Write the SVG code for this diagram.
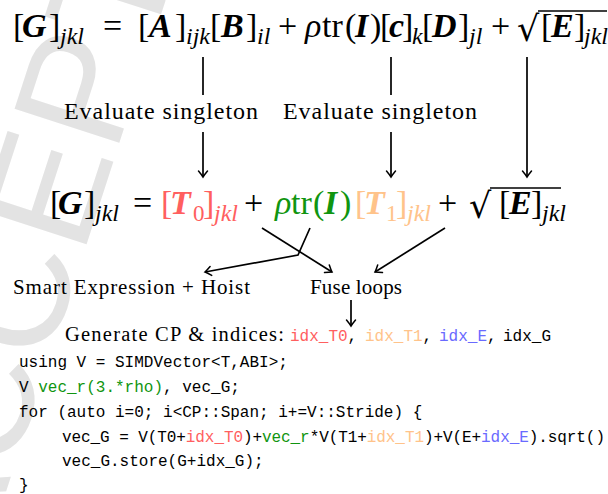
<svg xmlns="http://www.w3.org/2000/svg" width="608" height="494" viewBox="0 0 608 494">
<defs>
<style>
.wm{font-family:"Liberation Sans",Arial,sans-serif;font-size:160px;fill:#e3e3e3}
.m{font-family:"Liberation Serif","Times New Roman",serif;font-size:34px;fill:#000}
.bi{font-weight:bold;font-style:italic}
.it{font-style:italic}
.sub{font-family:"Liberation Serif","Times New Roman",serif;font-size:24px;font-style:italic}
.subr{font-family:"Liberation Serif","Times New Roman",serif;font-size:23px}
.rad{font-family:"DejaVu Serif",serif;font-size:35px}
.lab{font-family:"Liberation Serif","Times New Roman",serif;fill:#000}
.code{font-family:"Liberation Mono","Courier New",monospace;font-size:16px;fill:#000;white-space:pre}
.red{fill:#ff5f5f}
.org{fill:#ffc38a}
.grn{fill:#109510}
.blu{fill:#6a6aff}
.ln{stroke:#000;stroke-width:1.7;fill:none}
.ovl{stroke:#000;stroke-width:1.3}
</style>
<marker id="ah" markerWidth="12" markerHeight="12" viewBox="-7 -6 9 12" refX="0" refY="0" orient="auto" markerUnits="userSpaceOnUse">
<path d="M-6,-4.5 Q-2,-1.2 0,0 Q-2,1.2 -6,4.5" fill="none" stroke="#000" stroke-width="1.5" stroke-linecap="round"/>
</marker>
</defs>
<rect width="608" height="494" fill="#fff"/>
<text class="wm" transform="translate(-22,578) rotate(-72)" x="0" y="0">ACCEPTED</text>

<g id="eq1">
<text class="m" x="13" y="37">[</text>
<text class="m bi" x="22" y="37">G</text>
<text class="m" x="49" y="37">]</text>
<text class="sub" x="60" y="44">jkl</text>
<text class="m" x="103" y="37">=</text>
<text class="m" x="138" y="37">[</text>
<text class="m bi" x="149" y="37">A</text>
<text class="m" x="175" y="37">]</text>
<text class="sub" x="186" y="44">ijk</text>
<text class="m" x="210" y="37">[</text>
<text class="m bi" x="221" y="37">B</text>
<text class="m" x="246" y="37">]</text>
<text class="sub" x="257" y="44">il</text>
<text class="m" x="278" y="37">+</text>
<text class="m it" x="305" y="37">ρ</text>
<text class="m" x="322" y="37">tr</text>
<text class="m" x="345" y="37">(</text>
<text class="m bi" x="355" y="37">I</text>
<text class="m" x="370" y="37">)</text>
<text class="m" x="380" y="37">[</text>
<text class="m bi" x="389" y="37">c</text>
<text class="m" x="402" y="37">]</text>
<text class="sub" x="412" y="44">k</text>
<text class="m" x="422" y="37">[</text>
<text class="m bi" x="432" y="37">D</text>
<text class="m" x="458" y="37">]</text>
<text class="sub" x="469" y="44">jl</text>
<text class="m" x="491" y="37">+</text>
<text class="rad" x="517" y="41">√</text>
<line class="ovl" x1="538" y1="11" x2="607" y2="11"/>
<text class="m" x="541" y="37">[</text>
<text class="m bi" x="551" y="37">E</text>
<text class="m" x="574" y="37">]</text>
<text class="sub" x="584" y="44">jkl</text>
</g>

<g id="label-eval1"><text class="lab" font-size="24" x="64" y="119" textLength="194">Evaluate singleton</text></g>
<g id="label-eval2"><text class="lab" font-size="24" x="283" y="119" textLength="194">Evaluate singleton</text></g>

<g id="eq2">
<text class="m" x="50" y="214">[</text>
<text class="m bi" x="58" y="214">G</text>
<text class="m" x="84" y="214">]</text>
<text class="sub" x="95" y="221">jkl</text>
<text class="m" x="133" y="214">=</text>
<text class="m red" x="161" y="214">[</text>
<text class="m bi red" x="170" y="214">T</text>
<text class="subr red" x="193" y="221">0</text>
<text class="m red" x="203" y="214">]</text>
<text class="sub red" x="214" y="221">jkl</text>
<text class="m" x="244" y="214">+</text>
<text class="m it grn" x="275" y="214">ρ</text>
<text class="m grn" x="291" y="214">tr</text>
<text class="m grn" x="313" y="214">(</text>
<text class="m bi grn" x="324" y="214">I</text>
<text class="m grn" x="340" y="214">)</text>
<text class="m org" x="355" y="214">[</text>
<text class="m bi org" x="364" y="214">T</text>
<text class="subr org" x="386" y="221">1</text>
<text class="m org" x="396" y="214">]</text>
<text class="sub org" x="407" y="221">jkl</text>
<text class="m" x="438" y="214">+</text>
<text class="rad" x="469" y="218">√</text>
<line class="ovl" x1="490" y1="188" x2="561" y2="188"/>
<text class="m" x="499" y="214">[</text>
<text class="m bi" x="509" y="214">E</text>
<text class="m" x="531" y="214">]</text>
<text class="sub" x="542" y="221">jkl</text>
</g>

<g id="label-smart"><text class="lab" font-size="21" x="13" y="294" textLength="237">Smart Expression + Hoist</text></g>
<g id="label-fuse"><text class="lab" font-size="21" x="310" y="294" textLength="92">Fuse loops</text></g>

<g id="label-generate">
<text class="lab" font-size="20.5" x="65" y="341" textLength="219">Generate CP &amp; indices:</text>
<text class="code" x="290" y="341" font-size="16.5"><tspan class="red">idx_T0</tspan><tspan fill="#000">,</tspan></text>
<text class="code" x="365" y="341" font-size="16.5"><tspan class="org">idx_T1</tspan><tspan fill="#000">,</tspan></text>
<text class="code" x="439" y="341" font-size="16.5"><tspan class="blu">idx_E</tspan><tspan fill="#000">,</tspan></text>
<text class="code" x="503" y="341" font-size="16.5">idx_G</text>
</g>

<g id="code">
<text class="code" x="19" y="367">using V = SIMDVector&lt;T,ABI&gt;;</text>
<text class="code" x="19" y="392">V <tspan class="grn">vec_r(3.*rho)</tspan>, vec_G;</text>
<text class="code" x="19" y="417">for (auto i=0; i&lt;CP::Span; i+=V::Stride) {</text>
<text class="code" x="62" y="442" textLength="543">vec_G = V(T0+<tspan class="red">idx_T0</tspan>)+<tspan class="grn">vec_r</tspan>*V(T1+<tspan class="org">idx_T1</tspan>)+V(E+<tspan class="blu">idx_E</tspan>).sqrt()</text>
<text class="code" x="62" y="466">vec_G.store(G+idx_G);</text>
<text class="code" x="19" y="490">}</text>
</g>

<g id="connectors">
<line class="ln" x1="203" y1="57" x2="203" y2="95"/>
<line class="ln" x1="391" y1="57" x2="391" y2="95"/>
<line class="ln" x1="203" y1="132" x2="203" y2="177" marker-end="url(#ah)"/>
<line class="ln" x1="391" y1="132" x2="391" y2="177" marker-end="url(#ah)"/>
<line class="ln" x1="527" y1="57" x2="527" y2="177" marker-end="url(#ah)"/>
<line class="ln" x1="262" y1="228" x2="332" y2="272" marker-end="url(#ah)"/>
<polyline class="ln" points="310,228 298,255 205,272" marker-end="url(#ah)"/>
<line class="ln" x1="445" y1="228" x2="375" y2="272" marker-end="url(#ah)"/>
<line class="ln" x1="351" y1="300" x2="351" y2="326" marker-end="url(#ah)"/>
</g>
</svg>
